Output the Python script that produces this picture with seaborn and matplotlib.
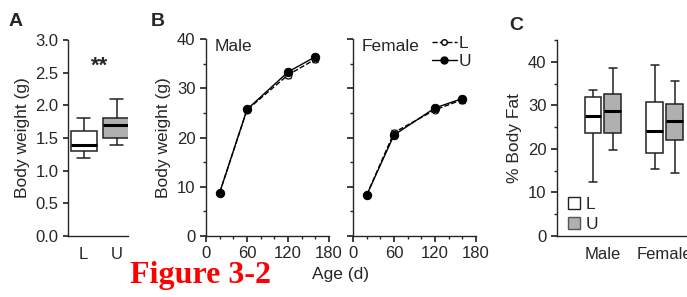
import matplotlib
matplotlib.use("Agg")
import matplotlib.pyplot as plt
import numpy as np
import pandas as pd
import seaborn as sns
from matplotlib.lines import Line2D
from matplotlib.patches import Patch
from matplotlib.ticker import MultipleLocator

# Panel A: body weight (five-number summary per group: min, q1, median, q3, max)
weight_groups = ["L", "U"]
weight_L = [1.2, 1.3, 1.4, 1.6, 1.8]
weight_U = [1.4, 1.5, 1.7, 1.8, 2.1]

# Panel B: growth curves (mean, sem)
ages = [20, 60, 120, 160]
male_L = [8.8, 25.6, 32.7, 35.9]
male_U = [8.8, 25.7, 33.3, 36.4]
male_L_sem = [0.3, 0.5, 0.7, 0.6]
male_U_sem = [0.3, 0.5, 0.6, 0.6]
female_L = [8.3, 21.0, 25.6, 27.7]
female_U = [8.3, 20.5, 26.0, 27.9]
female_L_sem = [0.3, 0.5, 0.5, 0.6]
female_U_sem = [0.3, 0.5, 0.5, 0.6]

# Panel C: % body fat (min, q1, median, q3, max)
fat_sexes = ["Male", "Female"]
fat_male_L = [12.3, 23.7, 27.6, 31.9, 33.5]
fat_male_U = [19.8, 23.7, 28.6, 32.5, 38.5]
fat_female_L = [15.3, 19.1, 24.0, 30.7, 39.2]
fat_female_U = [14.5, 22.0, 26.3, 30.4, 35.7]

sns.set_theme(style="ticks")
plt.rcParams["font.family"] = ["Liberation Sans", "DejaVu Sans"]
plt.rcParams["font.size"] = 12
plt.rcParams["axes.linewidth"] = 1.0

W, H = 687, 297
fig = plt.figure(figsize=(W / 100, H / 100), dpi=100)


def px_axes(left, right, top, bottom):
    return fig.add_axes([left / W, 1 - bottom / H, (right - left) / W, (bottom - top) / H])


gray = "#b0b0b0"
tick_fs = 12
label_fs = 12.5
box_kw = dict(whis=(0, 100), linecolor="#222222", linewidth=1.1,
              medianprops={"linewidth": 2.2, "color": "black"}, fliersize=0)

# ---- Panel A
ax_a = px_axes(68, 128, 40, 236)
df_a = pd.DataFrame({"group": ["L"] * 5 + ["U"] * 5, "value": weight_L + weight_U})
sns.boxplot(data=df_a, x="group", y="value", hue="group", order=weight_groups,
            palette={"L": "white", "U": gray}, width=0.8, legend=False, ax=ax_a, **box_kw)
ax_a.set_xlim(-0.48, 1.35)
ax_a.set_ylim(0, 3.0)
ax_a.yaxis.set_major_locator(MultipleLocator(0.5))
ax_a.set_ylabel("Body weight (g)", fontsize=label_fs)
ax_a.set_xlabel("")
ax_a.tick_params(axis="x", length=0, pad=8, labelsize=tick_fs)
ax_a.tick_params(axis="y", length=3.5, labelsize=tick_fs)
sns.despine(ax=ax_a)
ax_a.text(0.48, 2.6, "**", ha="center", va="center", fontsize=16, fontweight="bold")

# ---- Panel B
ax_m = px_axes(206, 329, 39, 236)
ax_f = px_axes(353, 476, 39, 236)
for ax, vL, vU, eL, eU, lab in [(ax_m, male_L, male_U, male_L_sem, male_U_sem, "Male"),
                                (ax_f, female_L, female_U, female_L_sem, female_U_sem, "Female")]:
    ax.errorbar(ages, vL, yerr=eL, fmt="none", ecolor="black", elinewidth=0.8, capsize=2.5)
    ax.errorbar(ages, vU, yerr=eU, fmt="none", ecolor="black", elinewidth=0.8, capsize=2.5)
    sns.lineplot(x=ages, y=vL, ax=ax, color="black", linestyle="--", linewidth=1.0,
                 marker="o", markersize=5, markerfacecolor="white", markeredgecolor="black")
    sns.lineplot(x=ages, y=vU, ax=ax, color="black", linewidth=1.0,
                 marker="o", markersize=6, markerfacecolor="black", markeredgecolor="black")
    ax.set_xlim(0, 180)
    ax.set_ylim(0, 40)
    ax.xaxis.set_major_locator(MultipleLocator(60))
    ax.xaxis.set_minor_locator(MultipleLocator(20))
    ax.yaxis.set_major_locator(MultipleLocator(10))
    ax.yaxis.set_minor_locator(MultipleLocator(5))
    ax.tick_params(which="major", length=4, labelsize=tick_fs)
    ax.tick_params(which="minor", length=2.5)
    ax.text(0.07, 1.0, lab, transform=ax.transAxes, ha="left", va="top", fontsize=label_fs)
    sns.despine(ax=ax)
ax_m.set_ylabel("Body weight (g)", fontsize=label_fs)
ax_f.tick_params(axis="y", labelleft=False)
fig.text(341 / W, 1 - 274 / H, "Age (d)", ha="center", va="center", fontsize=label_fs)
handles = [Line2D([], [], color="black", linestyle="--", linewidth=1.0, marker="o", markersize=4,
                  markerfacecolor="white", label="L"),
           Line2D([], [], color="black", linewidth=1.0, marker="o", markersize=5, label="U")]
ax_f.legend(handles=handles, loc="upper right", bbox_to_anchor=(1.05, 1.07), frameon=False,
            fontsize=label_fs, handlelength=1.4, handletextpad=0.15, labelspacing=0.2,
            borderaxespad=0.2)

# ---- Panel C
ax_c = px_axes(557, 702, 40, 236)
df_c = pd.DataFrame({
    "sex": ["Male"] * 10 + ["Female"] * 10,
    "group": (["L"] * 5 + ["U"] * 5) * 2,
    "value": fat_male_L + fat_male_U + fat_female_L + fat_female_U,
})
sns.boxplot(data=df_c, x="sex", y="value", hue="group", order=fat_sexes, hue_order=weight_groups,
            palette={"L": "white", "U": gray}, width=0.64, gap=0.15, ax=ax_c, **box_kw)
ax_c.set_xlim(-0.74, 1.6)
ax_c.set_ylim(0, 45)
ax_c.yaxis.set_major_locator(MultipleLocator(10))
ax_c.yaxis.set_minor_locator(MultipleLocator(5))
ax_c.tick_params(axis="y", which="major", length=4, labelsize=tick_fs)
ax_c.tick_params(axis="y", which="minor", length=2.5)
ax_c.tick_params(axis="x", length=0, pad=8, labelsize=tick_fs)
ax_c.set_xlabel("")
ax_c.set_ylabel("% Body Fat", fontsize=label_fs)
sns.despine(ax=ax_c)
leg_handles = [Patch(facecolor="white", edgecolor="#222222", label="L"),
               Patch(facecolor=gray, edgecolor="#555555", label="U")]
ax_c.legend(handles=leg_handles, loc="lower left", bbox_to_anchor=(-0.03, -0.06), frameon=False,
            fontsize=label_fs, handlelength=0.65, handleheight=0.65, handletextpad=0.35,
            labelspacing=0.3)

# panel letters
for x, y, s in [(9, 21, "A"), (151, 21, "B"), (509, 25, "C")]:
    fig.text(x / W, 1 - y / H, s, ha="left", va="center", fontsize=14, fontweight="bold")

fig.text(130 / W, 1 - 276 / H, "Figure 3-2", ha="left", va="center", color="red",
         fontsize=23, fontweight="bold", family="Liberation Serif")

fig.savefig("out.png", dpi=100)
